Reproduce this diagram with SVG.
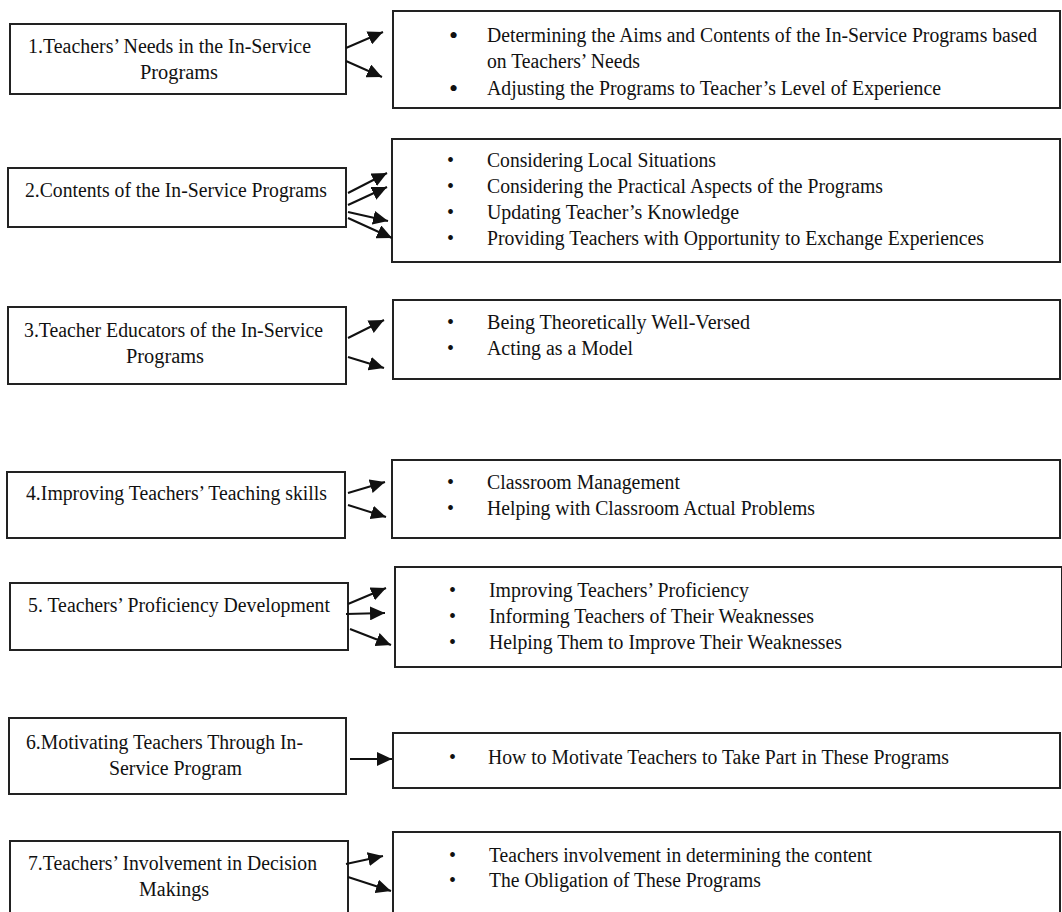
<svg xmlns="http://www.w3.org/2000/svg" width="1062" height="912" viewBox="0 0 1062 912">
<style>
.box{fill:#fff;stroke:#222;stroke-width:2}
.t{font-family:"Liberation Serif","Times New Roman",serif;font-size:20px;fill:#111}
.b{font-family:"Liberation Serif","Times New Roman",serif;font-size:20px;fill:#111}
.bb{font-family:"Liberation Serif","Times New Roman",serif;font-size:26px;fill:#111}
.c{stroke:#111;stroke-width:2;fill:none;marker-end:url(#ah)}
</style>
<defs>
<marker id="ah" markerUnits="userSpaceOnUse" markerWidth="16" markerHeight="14" refX="15" refY="7" orient="auto">
<path d="M0,0 L15,7 L0,14 Z" fill="#111"/>
</marker>
</defs>
<rect width="1062" height="912" fill="#fff"/>

<g id="n1">
<rect class="box" x="10" y="24" width="336" height="70"/>
<text class="t" x="28" y="53" textLength="283" lengthAdjust="spacingAndGlyphs">1.Teachers’ Needs in the In-Service</text>
<text class="t" x="140" y="79" textLength="78" lengthAdjust="spacingAndGlyphs">Programs</text>
</g>
<g id="r1">
<rect class="box" x="393" y="11" width="667" height="97"/>
<text class="bb" x="449" y="44">•</text>
<text class="t" x="487" y="42" textLength="550" lengthAdjust="spacingAndGlyphs">Determining the Aims and Contents of the In-Service Programs based</text>
<text class="t" x="487" y="68" textLength="153" lengthAdjust="spacingAndGlyphs">on Teachers’ Needs</text>
<text class="bb" x="449" y="97">•</text>
<text class="t" x="487" y="95" textLength="454" lengthAdjust="spacingAndGlyphs">Adjusting the Programs to Teacher’s Level of Experience</text>
</g>

<g id="n2">
<rect class="box" x="8" y="168" width="338" height="59"/>
<text class="t" x="25" y="197" textLength="302" lengthAdjust="spacingAndGlyphs">2.Contents of the In-Service Programs</text>
</g>
<g id="r2">
<rect class="box" x="392" y="139" width="668" height="123"/>
<text class="b" x="447" y="167">•</text>
<text class="t" x="487" y="167" textLength="229" lengthAdjust="spacingAndGlyphs">Considering Local Situations</text>
<text class="b" x="447" y="193">•</text>
<text class="t" x="487" y="193" textLength="396" lengthAdjust="spacingAndGlyphs">Considering the Practical Aspects of the Programs</text>
<text class="b" x="447" y="219">•</text>
<text class="t" x="487" y="219" textLength="252" lengthAdjust="spacingAndGlyphs">Updating Teacher’s Knowledge</text>
<text class="b" x="447" y="245">•</text>
<text class="t" x="487" y="245" textLength="497" lengthAdjust="spacingAndGlyphs">Providing Teachers with Opportunity to Exchange Experiences</text>
</g>

<g id="n3">
<rect class="box" x="8" y="307" width="338" height="77"/>
<text class="t" x="24" y="337" textLength="299" lengthAdjust="spacingAndGlyphs">3.Teacher Educators of the In-Service</text>
<text class="t" x="126" y="363" textLength="78" lengthAdjust="spacingAndGlyphs">Programs</text>
</g>
<g id="r3">
<rect class="box" x="393" y="300" width="667" height="79"/>
<text class="b" x="447" y="329">•</text>
<text class="t" x="487" y="329" textLength="263" lengthAdjust="spacingAndGlyphs">Being Theoretically Well-Versed</text>
<text class="b" x="447" y="355">•</text>
<text class="t" x="487" y="355" textLength="146" lengthAdjust="spacingAndGlyphs">Acting as a Model</text>
</g>

<g id="n4">
<rect class="box" x="7" y="472" width="338" height="66"/>
<text class="t" x="26" y="500" textLength="301" lengthAdjust="spacingAndGlyphs">4.Improving Teachers’ Teaching skills</text>
</g>
<g id="r4">
<rect class="box" x="392" y="460" width="668" height="78"/>
<text class="b" x="447" y="489">•</text>
<text class="t" x="487" y="489" textLength="193" lengthAdjust="spacingAndGlyphs">Classroom Management</text>
<text class="b" x="447" y="515">•</text>
<text class="t" x="487" y="515" textLength="328" lengthAdjust="spacingAndGlyphs">Helping with Classroom Actual Problems</text>
</g>

<g id="n5">
<rect class="box" x="10" y="583" width="338" height="67"/>
<text class="t" x="28" y="612" textLength="302" lengthAdjust="spacingAndGlyphs">5. Teachers’ Proficiency Development</text>
</g>
<g id="r5">
<rect class="box" x="395" y="567" width="667" height="100"/>
<text class="b" x="449" y="597">•</text>
<text class="t" x="489" y="597" textLength="260" lengthAdjust="spacingAndGlyphs">Improving Teachers’ Proficiency</text>
<text class="b" x="449" y="623">•</text>
<text class="t" x="489" y="623" textLength="325" lengthAdjust="spacingAndGlyphs">Informing Teachers of Their Weaknesses</text>
<text class="b" x="449" y="649">•</text>
<text class="t" x="489" y="649" textLength="353" lengthAdjust="spacingAndGlyphs">Helping Them to Improve Their Weaknesses</text>
</g>

<g id="n6">
<rect class="box" x="9" y="718" width="337" height="76"/>
<text class="t" x="26" y="749" textLength="277" lengthAdjust="spacingAndGlyphs">6.Motivating Teachers Through In-</text>
<text class="t" x="109" y="775" textLength="133" lengthAdjust="spacingAndGlyphs">Service Program</text>
</g>
<g id="r6">
<rect class="box" x="393" y="733" width="667" height="55"/>
<text class="b" x="449" y="764">•</text>
<text class="t" x="488" y="764" textLength="461" lengthAdjust="spacingAndGlyphs">How to Motivate Teachers to Take Part in These Programs</text>
</g>

<g id="n7">
<rect class="box" x="10" y="841" width="338" height="80"/>
<text class="t" x="28" y="870" textLength="289" lengthAdjust="spacingAndGlyphs">7.Teachers’ Involvement in Decision</text>
<text class="t" x="139" y="896" textLength="70" lengthAdjust="spacingAndGlyphs">Makings</text>
</g>
<g id="r7">
<rect class="box" x="393" y="832" width="667" height="90"/>
<text class="b" x="449" y="862">•</text>
<text class="t" x="489" y="862" textLength="383" lengthAdjust="spacingAndGlyphs">Teachers involvement in determining the content</text>
<text class="b" x="449" y="887">•</text>
<text class="t" x="489" y="887" textLength="272" lengthAdjust="spacingAndGlyphs">The Obligation of These Programs</text>
</g>

<g id="connectors">
<line class="c" x1="346" y1="48" x2="383" y2="32"/>
<line class="c" x1="346" y1="61" x2="382" y2="77"/>
<line class="c" x1="348" y1="193" x2="387" y2="173"/>
<line class="c" x1="348" y1="205" x2="387" y2="187"/>
<line class="c" x1="348" y1="212" x2="388" y2="221"/>
<line class="c" x1="348" y1="218" x2="392" y2="238"/>
<line class="c" x1="348" y1="338" x2="384" y2="320"/>
<line class="c" x1="348" y1="357" x2="384" y2="368"/>
<line class="c" x1="348" y1="493" x2="385" y2="482"/>
<line class="c" x1="348" y1="505" x2="386" y2="517"/>
<line class="c" x1="348" y1="604" x2="386" y2="588"/>
<line class="c" x1="346" y1="614" x2="385" y2="613"/>
<line class="c" x1="350" y1="629" x2="391" y2="645"/>
<line class="c" x1="350" y1="759" x2="392" y2="759"/>
<line class="c" x1="346" y1="864" x2="383" y2="856"/>
<line class="c" x1="348" y1="877" x2="391" y2="891"/>
</g>
</svg>
